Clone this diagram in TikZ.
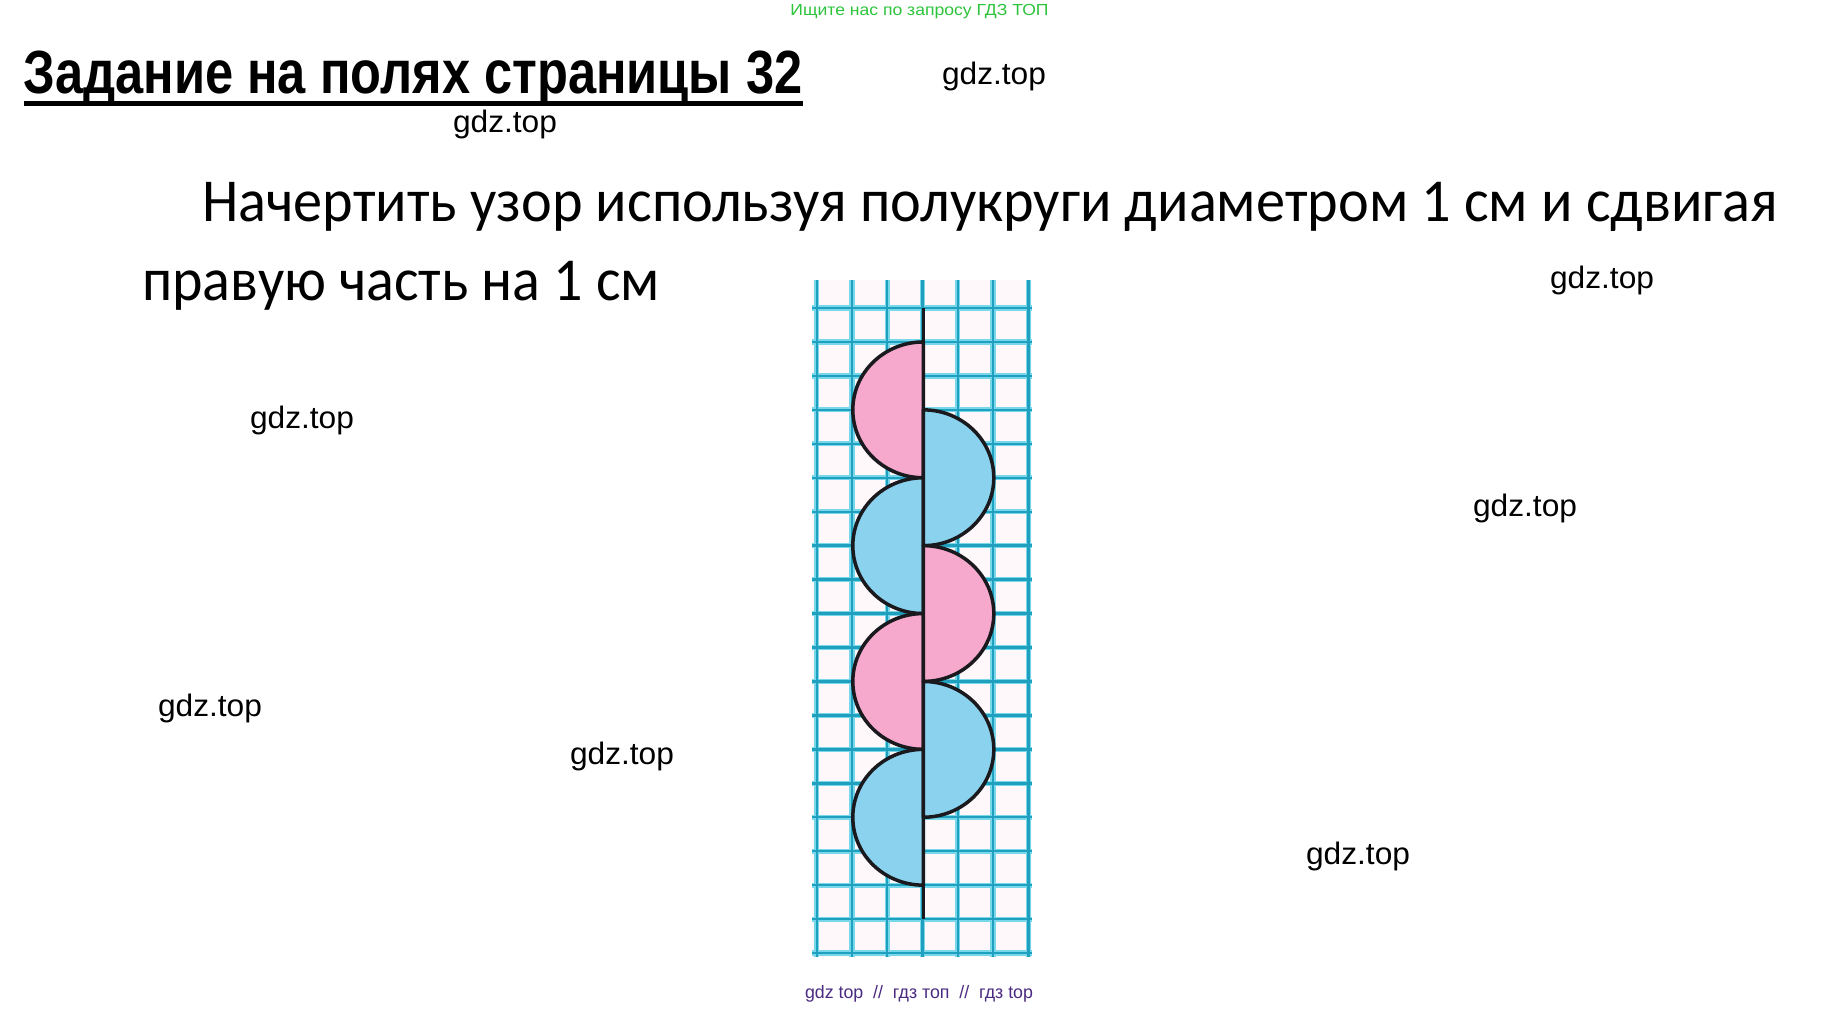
\documentclass[tikz,border=0pt]{standalone}
\usepackage{fontspec}
\setmainfont{Liberation Sans}
\newfontfamily\calib{Carlito}
\definecolor{pinkc}{RGB}{247,168,205}
\definecolor{bluec}{RGB}{138,210,238}
\definecolor{gridcore}{RGB}{30,160,190}
\definecolor{gridhalo}{RGB}{120,215,235}
\definecolor{outl}{RGB}{25,25,30}
\definecolor{greenc}{RGB}{45,196,60}
\definecolor{purplec}{RGB}{75,42,130}
\definecolor{paperc}{RGB}{254,248,251}
\newcommand{\fitw}[2]{\resizebox{#1}{\height}{#2}}
\tikzset{
  txt/.style={inner sep=0pt, outer sep=0pt},
  wm/.style={txt, anchor=center, font=\fontsize{31}{31}\selectfont},
  halo/.style={gridhalo, line width=5.2pt},
  core/.style={gridcore, line width=2.4pt},
  half/.style={draw=outl, line width=3.5pt, line join=round},
}
\begin{document}
\begin{tikzpicture}[x=1pt,y=-1pt]
\useasboundingbox (0,0) rectangle (1841,1009);
\fill[white] (0,0) rectangle (1841,1009);

% header
\node[txt, anchor=center, text=greenc, font=\fontsize{16}{16}\selectfont] (top) at (919.5,11.5) {\fitw{258pt}{Ищите нас по запросу ГДЗ ТОП}};
\node[txt, anchor=base west, font=\fontsize{61}{61}\selectfont\bfseries] (title) at (23.5,93) {\fitw{779pt}{Задание на полях страницы 32}};
\fill (23.5,101) rectangle (803,105.5);

\node[txt, anchor=base west, font=\calib\fontsize{61}{61}\selectfont] (line1) at (202,221) {\fitw{1576pt}{Начертить узор используя полукруги диаметром 1 см и сдвигая}};
\node[txt, anchor=base west, font=\calib\fontsize{61}{61}\selectfont] (line2) at (142,300) {\fitw{518pt}{правую часть на 1 см}};

% watermarks
\node[wm] (w1) at (994,76.3) {\fitw{104pt}{gdz.top}};
\node[wm] (w2) at (505,124.3) {\fitw{104pt}{gdz.top}};
\node[wm] (w3) at (1602,280.3) {\fitw{104pt}{gdz.top}};
\node[wm] (w4) at (302,420.3) {\fitw{104pt}{gdz.top}};
\node[wm] (w5) at (1525,508.3) {\fitw{104pt}{gdz.top}};
\node[wm] (w6) at (210,708.3) {\fitw{104pt}{gdz.top}};
\node[wm] (w7) at (622,756.3) {\fitw{104pt}{gdz.top}};
\node[wm] (w8) at (1358,856.3) {\fitw{104pt}{gdz.top}};

\node[txt, anchor=center, text=purplec, font=\fontsize{18}{18}\selectfont] (foot) at (919,994) {\fitw{228pt}{gdz top\ \ //\ \ гдз топ\ \ //\ \ гдз top}};

% grid paper
\fill[paperc] (812,280) rectangle (1032,957);
\foreach \k in {0,...,6} {
  \draw[halo] ({816.7+35.27*\k},280) -- ({816.7+35.27*\k},957);
}
\foreach \k in {0,...,19} {
  \draw[halo] (812,{308+33.95*\k}) -- (1032,{308+33.95*\k});
}
\foreach \k in {0,...,6} {
  \draw[core] ({816.7+35.27*\k},280) -- ({816.7+35.27*\k},957);
}
\foreach \k in {0,...,19} {
  \draw[core] (812,{308+33.95*\k}) -- (1032,{308+33.95*\k});
}

% semicircles, left side
\foreach \cy/\col in {409.85/pinkc, 545.65/bluec, 681.45/pinkc, 817.25/bluec} {
  \filldraw[half, fill=\col] (923.3,{\cy-67.9}) arc[start angle=90, end angle=270, x radius=70.5pt, y radius=67.9pt] -- cycle;
}
% semicircles, right side
\foreach \cy/\col in {477.75/bluec, 613.55/pinkc, 749.35/bluec} {
  \filldraw[half, fill=\col] (923.3,{\cy-67.9}) arc[start angle=90, end angle=-90, x radius=70.5pt, y radius=67.9pt] -- cycle;
}
\coordinate (axtop) at (923.3,308);
\coordinate (axbot) at (923.3,919);
\draw[outl, line width=3.6pt] (axtop) -- (axbot);
\end{tikzpicture}
\end{document}
